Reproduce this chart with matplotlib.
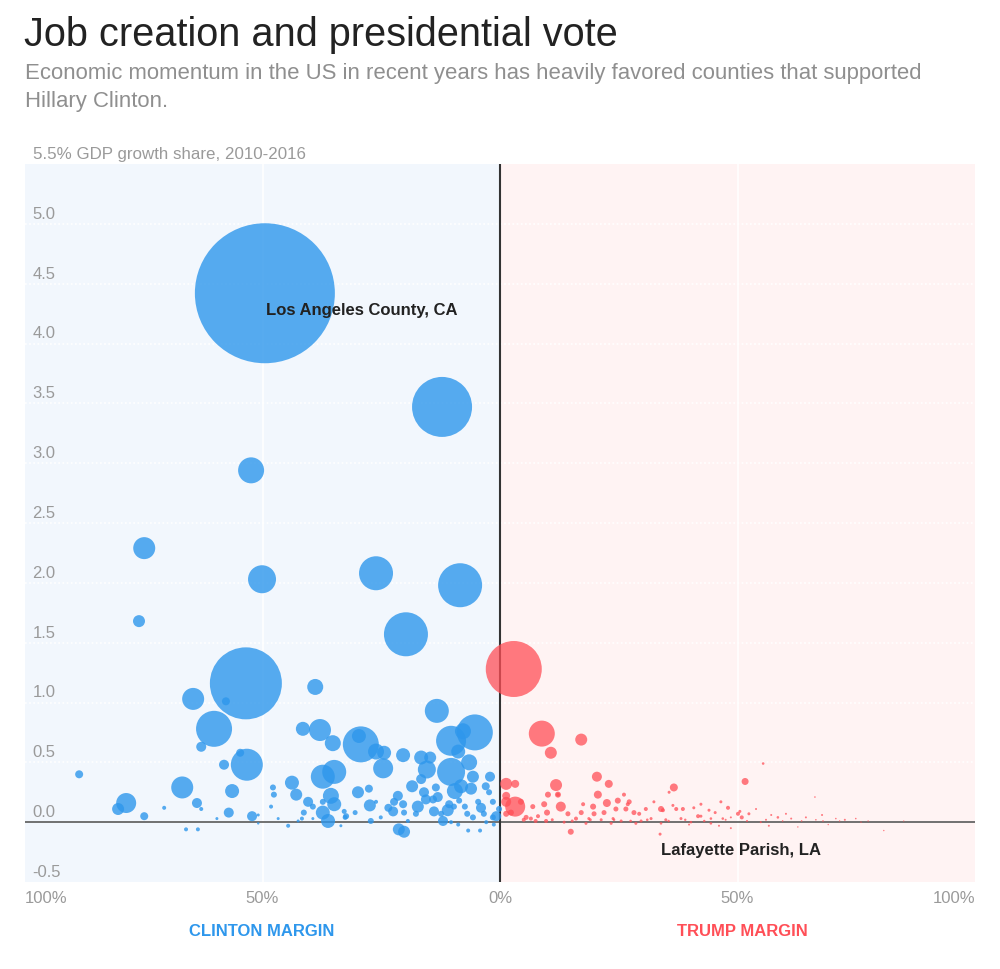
import numpy as np
import matplotlib
matplotlib.use("Agg")
import matplotlib.pyplot as plt
import matplotlib.transforms as mtransforms

# counties won by Clinton: margin (%), share of GDP growth (%), bubble radius (px)
clinton_margin = [49.5, 12.2, 52.4, 74.9, 50.1, 26.1, 8.4, 19.8, 76.0, 53.5, 64.6, 38.9,
                  60.2, 57.7, 62.9, 58.1, 54.7, 53.3, 56.4, 57.1, 52.2, 66.9, 63.8, 78.7,
                  80.4, 74.9, 88.6, 70.7, 66.1, 63.6, 62.9, 59.6, 13.3, 5.3, 10.3, 7.8,
                  29.3, 29.7, 37.9, 41.5, 35.2, 26.1, 24.4, 24.6, 20.4, 16.6, 14.7, 15.4,
                  16.6, 10.3, 8.8, 6.5, 5.7, 2.1, 8.2, 6.1, 2.3, 1.5, 29.9, 27.6, 27.4,
                  32.8, 32.6, 30.5, 26.1, 22.5, 21.5, 22.3, 20.4, 20.2, 17.3, 17.7, 15.6,
                  14.1, 13.1, 13.5, 13.9, 12.4, 12.0, 10.7, 9.7, 8.6, 7.4, 6.9, 5.7, 4.6,
                  3.4, 1.5, 0.8, 27.2, 21.3, 20.2, 10.3, 8.8, 6.7, 4.2, 25.1, 19.4, 47.8,
                  47.6, 48.2, 43.8, 42.9, 40.4, 39.4, 41.3, 37.3, 37.3, 34.9, 35.6, 34.9,
                  37.3, 36.2, 32.4, 46.7, 44.6, 42.5, 41.7, 39.4, 33.5, 50.9, 50.9, 0.2,
                  2.9, 1.3, 9.5, 4.0, 18.5, 11.0, 3.0, 23.5, 16.0]
clinton_growth = [4.42, 3.47, 2.94, 2.29, 2.03, 2.08, 1.98, 1.57, 1.68, 1.16, 1.03, 1.13,
                  0.78, 1.01, 0.63, 0.48, 0.58, 0.48, 0.26, 0.08, 0.05, 0.29, 0.16, 0.16,
                  0.11, 0.05, 0.40, 0.12, -0.06, -0.06, 0.11, 0.03, 0.93, 0.75, 0.68, 0.76,
                  0.65, 0.72, 0.77, 0.78, 0.66, 0.59, 0.58, 0.45, 0.56, 0.54, 0.54, 0.44,
                  0.36, 0.42, 0.59, 0.50, 0.38, 0.38, 0.30, 0.28, 0.25, 0.17, 0.25, 0.28,
                  0.14, 0.09, 0.04, 0.08, 0.17, 0.09, 0.22, 0.17, 0.15, 0.08, 0.13, 0.07,
                  0.19, 0.19, 0.21, 0.29, 0.09, 0.07, 0.01, 0.15, 0.13, 0.18, 0.13, 0.07,
                  0.04, 0.17, 0.07, 0.04, 0.05, 0.01, -0.06, -0.08, 0.00, -0.02, -0.07,
                  -0.07, 0.04, 0.01, 0.29, 0.23, 0.13, 0.33, 0.23, 0.17, 0.13, 0.08, 0.17,
                  0.38, 0.42, 0.22, 0.15, 0.08, 0.01, 0.05, 0.03, -0.03, 0.01, 0.03, 0.03,
                  -0.03, 0.06, -0.01, 0.11, 0.00, -0.02, 0.26, 0.12, 0.30, 0.10, 0.30,
                  0.12, 0.25]
clinton_size = [70, 30, 13, 11, 14, 17, 22, 22, 6, 36, 11, 8, 18, 4, 5, 5, 4, 16, 7, 5, 5,
                11, 5, 10, 6, 4, 4, 2, 2, 2, 2, 1.5, 12, 18, 15, 8, 18, 7, 11, 7, 8, 8, 7,
                10, 7, 7, 6, 9, 5, 14, 7, 8, 6, 5, 7, 6, 3, 3, 6, 4, 6, 2.5, 2.5, 2.5, 2,
                5, 5, 4, 4, 3, 6, 3, 5, 4, 5, 4, 5, 3, 5, 4, 3, 3, 3, 3, 3, 3, 3, 3, 5, 3,
                6, 6, 2, 2, 2, 2, 2, 2, 3, 3, 2, 7, 6, 5, 3, 3, 3, 12, 12, 8, 7, 7, 7, 3,
                1.5, 2, 1.5, 2, 1.5, 1.5, 1.5, 1.2, 3, 2, 2, 8, 5, 6, 6, 4, 4, 5]

# counties won by Trump
trump_margin = [2.9, 8.8, 10.7, 17.1, 20.4, 22.9, 11.8, 1.3, 3.2, 3.2, 1.3, 1.3, 2.3,
                10.1, 20.6, 22.5, 24.8, 27.2, 26.1, 12.8, 9.3, 9.9, 14.3, 17.5, 19.6,
                17.1, 19.8, 21.9, 24.4, 26.5, 28.2, 29.3, 30.7, 32.4, 33.9, 35.6, 36.6,
                37.1, 38.5, 14.9, 33.7, 55.4, 51.6, 66.3, 40.8, 44.0, 45.3, 48.0, 50.5,
                50.1, 50.9, 52.4, 41.7, 42.3, 44.4, 46.9, 48.6, 58.5, 61.3, 67.8, 72.6,
                77.5, 56.6, 48.6, 46.1, 39.8, 62.7, 69.1, 80.8, 1.3, 5.5, 6.5, 8.0, 6.9,
                4.4, 12.2, 16.0, 18.7, 21.3, 23.8, 25.5, 29.7, 31.8, 34.9, 38.1, 12.2,
                26.9, 34.3, 36.4, 42.3, 46.5, 53.9, 57.1, 60.2, 64.4, 66.5, 70.7, 74.9,
                9.7, 13.5, 18.1, 23.4, 28.6, 33.9, 40.2, 44.4, 54.9, 5.0, 7.5, 11.0, 15.2,
                19.0, 24.0, 27.5, 31.0, 35.5, 39.0, 43.0, 47.5, 52.0, 56.0, 59.5, 63.5,
                68.0, 71.5, 76.0, 85.0]
trump_growth = [1.28, 0.74, 0.58, 0.69, 0.38, 0.32, 0.31, 0.32, 0.32, 0.13, 0.22, 0.17,
                0.08, 0.23, 0.23, 0.16, 0.18, 0.17, 0.23, 0.13, 0.15, 0.08, 0.07, 0.15,
                0.13, 0.08, 0.07, 0.08, 0.11, 0.11, 0.08, 0.07, 0.11, 0.17, 0.11, 0.25,
                0.29, 0.11, 0.11, -0.08, -0.10, 0.49, 0.34, 0.21, 0.12, 0.10, 0.08, 0.12,
                0.09, 0.07, 0.04, 0.07, 0.05, 0.05, 0.03, 0.03, 0.04, 0.04, 0.03, 0.06,
                0.02, 0.01, -0.03, -0.05, -0.03, -0.02, -0.04, -0.02, -0.07, 0.07, 0.04,
                0.03, 0.05, 0.13, 0.17, 0.23, 0.03, 0.03, 0.02, 0.03, 0.01, 0.01, 0.03,
                0.02, 0.03, 0.23, 0.15, 0.10, 0.14, 0.15, 0.17, 0.11, 0.06, 0.07, 0.04,
                0.02, 0.03, 0.03, 0.01, 0.00, -0.01, -0.01, -0.01, -0.01, 0.00, -0.01,
                0.00, 0.02, 0.01, 0.02, 0.01, 0.02, 0.02, 0.01, 0.02, 0.01, 0.02, 0.01,
                0.02, 0.01, 0.02, 0.01, 0.01, 0.01, 0.01, 0.00, 0.01]
trump_size = [28, 13, 6, 6, 5, 4, 6, 6, 4, 10, 4, 5, 3, 3, 4, 4, 3, 2.5, 2, 5, 3, 3, 2.5,
              2, 3, 2.5, 2.5, 2.5, 2.5, 2.5, 2.5, 2, 2, 1.5, 3, 1.5, 4, 2, 2, 3, 1.5, 1.3,
              3.5, 0.8, 1.5, 1.5, 1.5, 2, 1.5, 2, 2, 1.5, 2, 1.5, 1.3, 1.3, 1, 1.3, 1, 1,
              1, 0.7, 1, 1, 1, 1, 0.7, 0.7, 0.7, 3, 2.5, 2, 2, 2.5, 3, 2, 2, 1.5, 1.5,
              1.5, 1.5, 1.5, 1.5, 1.5, 1.5, 3, 2, 2, 1.5, 1.5, 1.5, 1, 1, 1, 1, 0.8, 0.8,
              0.8, 2, 1.5, 1.5, 1.5, 1.5, 1.3, 1.3, 1.3, 1, 2, 2, 1.5, 1.5, 1.5, 1.3, 1.3,
              1.3, 1.2, 1.2, 1.2, 1, 1, 1, 0.8, 0.8, 0.8, 0.7, 0.7, 0.6]

y_ticks = [-0.5, 0.0, 0.5, 1.0, 1.5, 2.0, 2.5, 3.0, 3.5, 4.0, 4.5, 5.0]
x_ticks = [-100, -50, 0, 50, 100]
x_labels = ["100%", "50%", "0%", "50%", "100%"]

BLUE = "#2e97ec"
RED = "#ff4f57"
GREY = "#9a9a9a"
SANS = ["Liberation Sans", "DejaVu Sans"]


def marker_area(r_px):
    # radius in pixels -> scatter area in points^2 (dpi 100)
    return (2 * np.array(r_px) * 0.72) ** 2


fig = plt.figure(figsize=(10, 9.7), dpi=100)
ax = fig.add_axes([0.025, 1 - 883 / 970, 0.95, (883 - 165) / 970])
ax.set_xlim(-100, 100)
ax.set_ylim(-0.5, 5.5)

ax.axvspan(-100, 0, color="#f2f7fd", zorder=0, lw=0)
ax.axvspan(0, 100, color="#fff3f3", zorder=0, lw=0)

for v in y_ticks[2:]:
    ax.axhline(v, color="white", lw=1.2, ls=(0, (1, 1.5)), zorder=0.5)
for v in (-50, 50):
    ax.axvline(v, color="white", lw=1.2, zorder=0.5)
ax.axhline(0, color="#666666", lw=1.3, zorder=1)
ax.axvline(0, color="#333333", lw=1.5, zorder=1)

ax.scatter(-np.array(clinton_margin), clinton_growth, s=marker_area(clinton_size),
           color=BLUE, alpha=0.8, edgecolors="none", zorder=2)
ax.scatter(trump_margin, trump_growth, s=marker_area(trump_size),
           color=RED, alpha=0.75, edgecolors="none", zorder=2)

for s in ax.spines.values():
    s.set_visible(False)
ax.set_xticks([])
ax.set_yticks([])

# y labels sit just above their gridline
trans = mtransforms.blended_transform_factory(ax.transAxes, ax.transData)
trans = mtransforms.offset_copy(trans, fig=fig, x=0, y=3, units="dots")
for v in y_ticks:
    ax.text(0.008, v, f"{v:.1f}", transform=trans, ha="left", va="bottom",
            color=GREY, fontsize=12, family=SANS)

for v, lab in zip(x_ticks, x_labels):
    ha = "left" if v == -100 else ("right" if v == 100 else "center")
    ax.text(v, -0.63, lab, ha=ha, va="center", color=GREY, fontsize=12, family=SANS)

ax.text(-49.3, 4.28, "Los Angeles County, CA", ha="left", va="center",
        fontsize=12, fontweight="bold", color="#222222", family=SANS)
ax.text(33.9, -0.23, "Lafayette Parish, LA", ha="left", va="center",
        fontsize=12, fontweight="bold", color="#222222", family=SANS)

fig.text(0.024, 1 - 35 / 970, "Job creation and presidential vote", ha="left",
         va="center", fontsize=28.6, color="#222222", family=SANS)
fig.text(0.025, 1 - 74 / 970,
         "Economic momentum in the US in recent years has heavily favored counties that supported",
         ha="left", va="center", fontsize=15.9, color="#8f8f8f", family=SANS)
fig.text(0.025, 1 - 102 / 970, "Hillary Clinton.", ha="left", va="center", fontsize=15.9,
         color="#8f8f8f", family=SANS)
fig.text(0.033, 1 - 154 / 970, "5.5% GDP growth share, 2010-2016", ha="left", va="center",
         fontsize=12.2, color=GREY, family=SANS)

fig.text(0.262, 1 - 932 / 970, "CLINTON MARGIN", ha="center", va="center", fontsize=12,
         fontweight="bold", color=BLUE, family=SANS)
fig.text(0.742, 1 - 932 / 970, "TRUMP MARGIN", ha="center", va="center", fontsize=12,
         fontweight="bold", color=RED, family=SANS)

fig.savefig("out.png", dpi=100, facecolor="white")
